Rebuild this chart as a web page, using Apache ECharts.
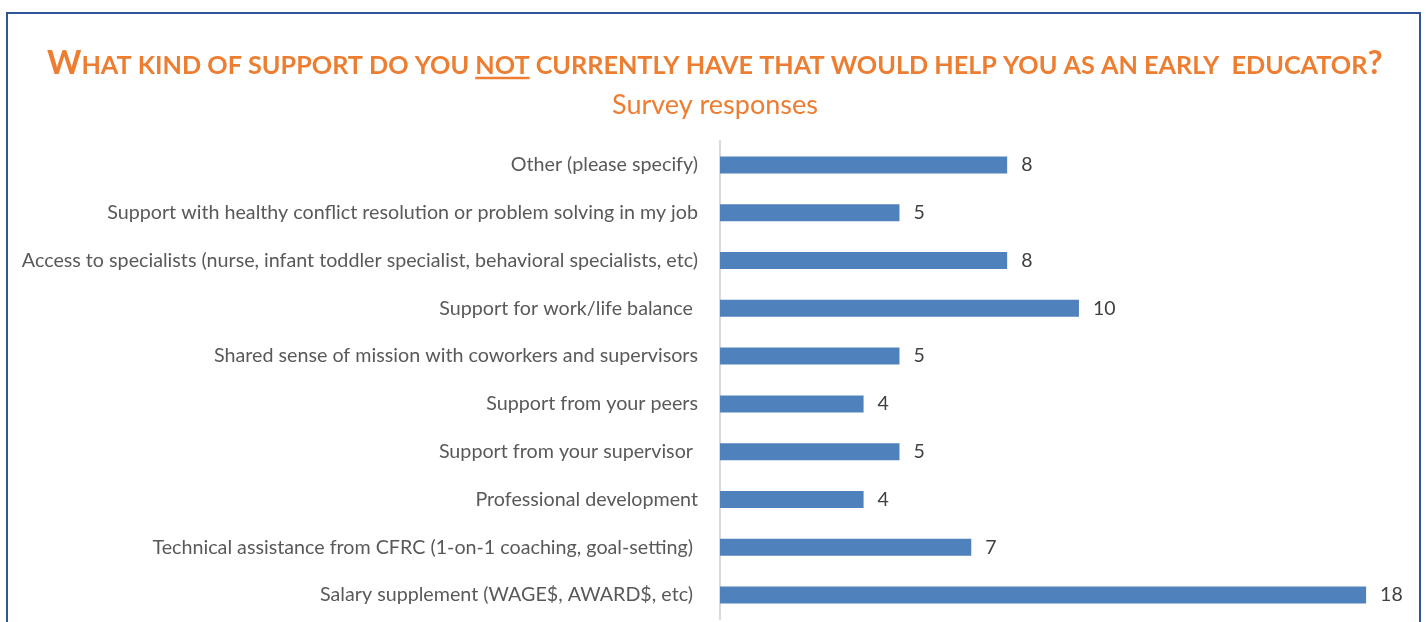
<!DOCTYPE html>
<html>
<head>
<meta charset="utf-8">
<script src="https://cdn.jsdelivr.net/npm/echarts@6/dist/echarts.min.js"></script>
<style>
  html, body { margin: 0; padding: 0; background: #fff; }
  #chart { width: 1426px; height: 622px; }
</style>
</head>
<body>
<div id="chart"></div>
<script>
// Survey categories, listed bottom-to-top as drawn on the category axis
const categories = [
  'Salary supplement (WAGE$, AWARD$, etc) ',
  'Technical assistance from CFRC (1-on-1 coaching, goal-setting) ',
  'Professional development',
  'Support from your supervisor ',
  'Support from your peers',
  'Shared sense of mission with coworkers and supervisors',
  'Support for work/life balance ',
  'Access to specialists (nurse, infant toddler specialist, behavioral specialists, etc)',
  'Support with healthy conflict resolution or problem solving in my job',
  'Other (please specify)'
];
const responses = [18, 7, 4, 5, 4, 5, 10, 8, 5, 8];

const ORANGE = '#ED7D31';
const BAR = '#4F81BD';
const FONT = 'Lato';

// Title pieces: small caps made from large initials and smaller capitals
const titleBefore = 'HAT KIND OF SUPPORT DO YOU ';
const titleUnder = 'NOT';
const titleAfter = ' CURRENTLY HAVE THAT WOULD HELP YOU AS AN EARLY  EDUCATOR';
const TITLE_WIDTH = 1336;

const ctx = document.createElement('canvas').getContext('2d');
function textWidth(text, size) {
  ctx.font = 'bold ' + size + 'px ' + FONT;
  ctx.textBaseline = 'alphabetic';
  return ctx.measureText(text).width;
}
// distance from the 'middle' baseline down to the alphabetic baseline
function middleToBase(size) {
  ctx.font = 'bold ' + size + 'px ' + FONT;
  ctx.textBaseline = 'middle';
  const d = ctx.measureText('H').actualBoundingBoxDescent;
  ctx.textBaseline = 'alphabetic';
  return d;
}

const chart = echarts.init(document.getElementById('chart'));

function build() {
  // size the small caps so the whole heading spans the target width
  const ratio = 1.3;
  const run = (s) => textWidth('W', s * ratio) + textWidth(titleBefore + titleUnder + titleAfter, s) + textWidth('?', s * ratio);
  const unit = run(20);
  const smallSize = 20 * TITLE_WIDTH / unit;
  const bigSize = smallSize * ratio;

  const wW = textWidth('W', bigSize);
  const wBefore = textWidth(titleBefore, smallSize);
  const wNot = textWidth(titleUnder, smallSize);
  const wAfter = textWidth(titleAfter, smallSize);
  const x0 = 715 - TITLE_WIDTH / 2;
  const baseY = 74;
  const notX = x0 + wW + wBefore;

  const piece = (x, text, size) => ({
    type: 'text',
    x: x,
    y: baseY - middleToBase(size),
    silent: true,
    style: {
      text: text,
      fill: ORANGE,
      fontSize: size,
      fontWeight: 'bold',
      fontFamily: FONT,
      align: 'left',
      verticalAlign: 'middle'
    }
  });

  chart.setOption({
    animation: false,
    textStyle: { fontFamily: FONT },
    graphic: [
      {
        type: 'rect',
        shape: { x: 7, y: 13, width: 1413, height: 700 },
        style: { fill: 'none', stroke: '#2F5597', lineWidth: 2 },
        silent: true
      },
      piece(x0, 'W', bigSize),
      piece(x0 + wW, titleBefore + titleUnder + titleAfter, smallSize),
      piece(x0 + wW + wBefore + wNot + wAfter, '?', bigSize),
      {
        type: 'line',
        silent: true,
        shape: { x1: notX, y1: baseY + 4, x2: notX + wNot, y2: baseY + 4 },
        style: { stroke: ORANGE, lineWidth: 2.5 }
      },
      {
        type: 'text',
        x: 715, y: 105,
        silent: true,
        style: {
          text: 'Survey responses',
          fill: ORANGE,
          fontSize: 27,
          fontFamily: FONT,
          align: 'center',
          verticalAlign: 'middle'
        }
      }
    ],
    grid: { left: 720, top: 141, width: 682, height: 478, containLabel: false },
    xAxis: {
      type: 'value',
      min: 0,
      max: 19,
      show: false
    },
    yAxis: {
      type: 'category',
      data: categories,
      axisLine: { show: true, lineStyle: { color: '#D9D9D9', width: 2 } },
      axisTick: { show: false },
      axisLabel: { color: '#595959', fontSize: 19.7, fontFamily: FONT, margin: 22 }
    },
    series: [{
      type: 'bar',
      data: responses,
      barWidth: 17,
      itemStyle: { color: BAR },
      label: {
        show: true,
        position: 'right',
        distance: 14,
        color: '#404040',
        fontSize: 19.5,
        fontFamily: FONT
      }
    }]
  });
}

build();
</script>
</body>
</html>
